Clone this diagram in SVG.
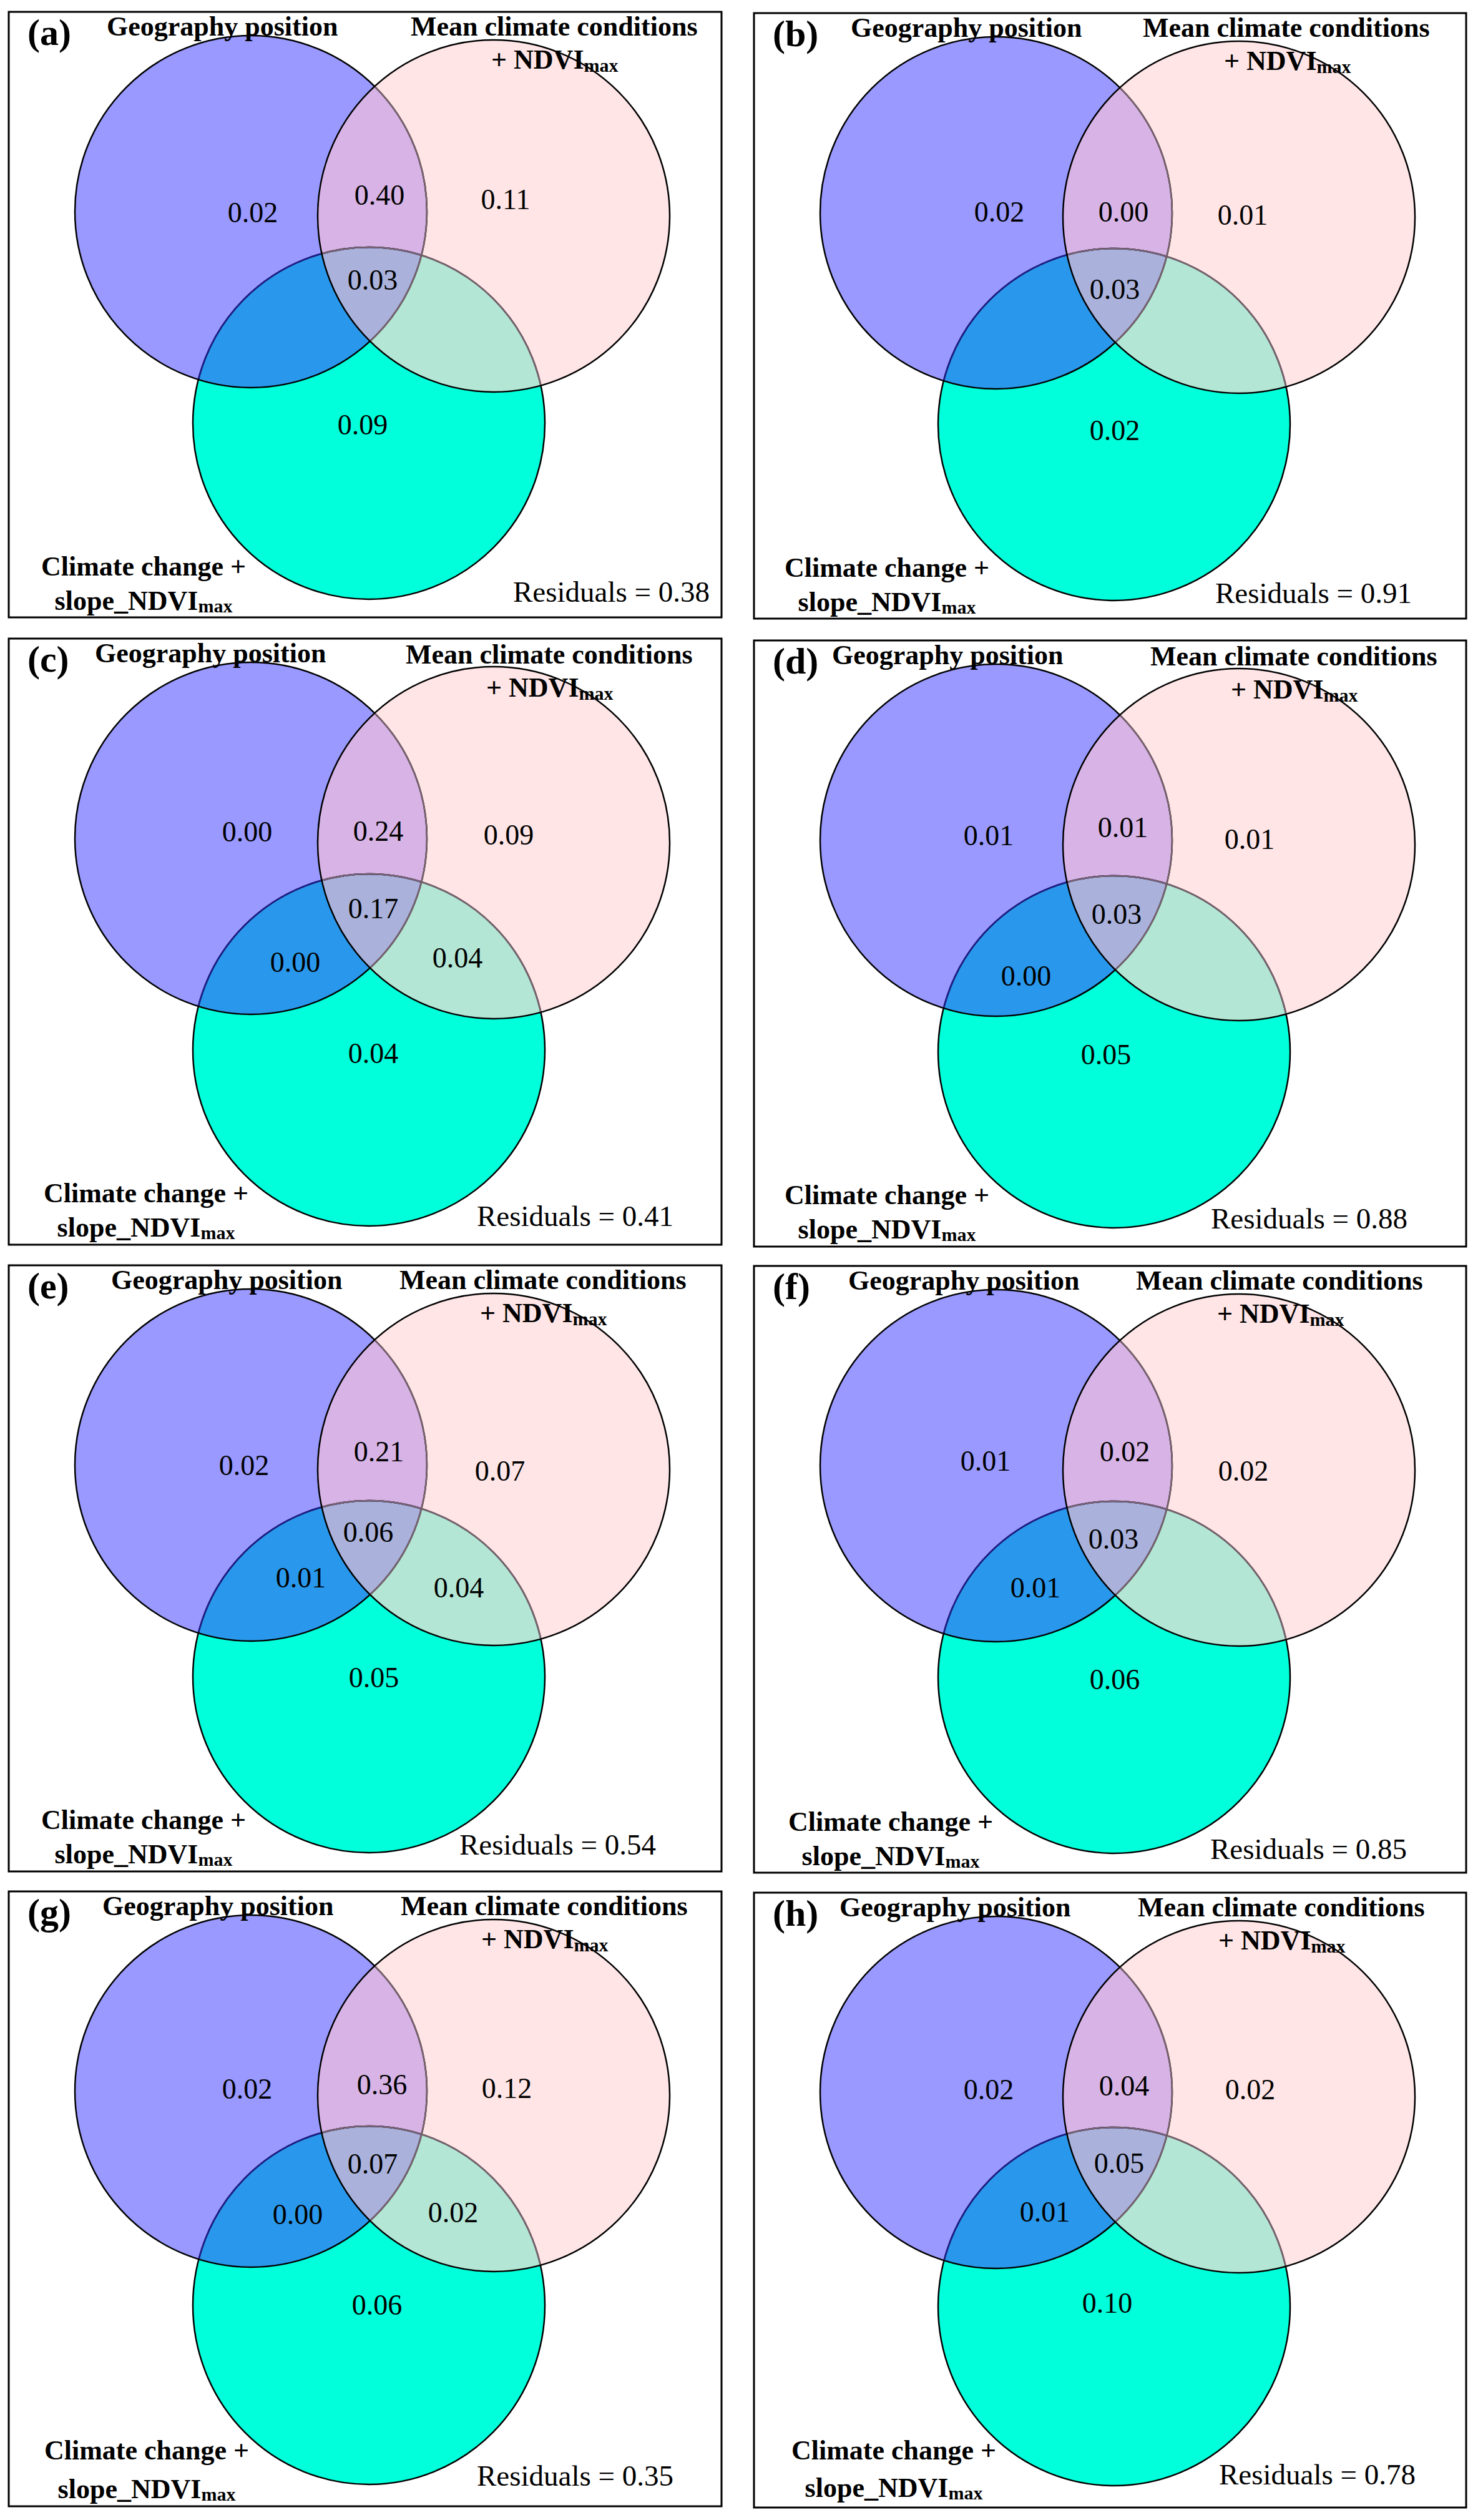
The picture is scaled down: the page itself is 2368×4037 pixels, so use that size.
<svg xmlns="http://www.w3.org/2000/svg" xmlns:xlink="http://www.w3.org/1999/xlink" width="2368" height="4037" viewBox="0 0 2368 4037">
<style>
.box{fill:#ffffff;stroke:#000000;stroke-width:3}
.t{font-family:"Liberation Serif","Times New Roman",serif;font-weight:bold;font-size:44px;fill:#000}
.pl{font-family:"Liberation Serif","Times New Roman",serif;font-weight:bold;font-size:60px;fill:#000}
.n{font-family:"Liberation Serif","Times New Roman",serif;font-size:46px;text-anchor:middle;fill:#000}
.r{font-family:"Liberation Serif","Times New Roman",serif;font-size:47px;fill:#000}
.m{text-anchor:middle}
.sub{font-size:30px}
.ol{fill:none;stroke-width:2.5}
</style>
<defs>
<clipPath id="cA"><circle cx="388" cy="320" r="282"/></clipPath>
<clipPath id="cB"><circle cx="777" cy="327" r="282"/></clipPath>
<g id="venn">
<circle cx="388" cy="320" r="282" fill="#9999FF"/>
<circle cx="777" cy="327" r="282" fill="#FFE5E6"/>
<circle cx="577" cy="659" r="282" fill="#00FFDA"/>
<circle cx="777" cy="327" r="282" fill="#D8B4E6" clip-path="url(#cA)"/>
<circle cx="577" cy="659" r="282" fill="#2998EC" clip-path="url(#cA)"/>
<circle cx="577" cy="659" r="282" fill="#B3E6D5" clip-path="url(#cB)"/>
<g clip-path="url(#cA)"><circle cx="577" cy="659" r="282" fill="#AAB2DC" clip-path="url(#cB)"/></g>
<circle class="ol" cx="577" cy="659" r="282" stroke="#000"/>
<circle class="ol" cx="577" cy="659" r="282" stroke="#1E1E8C" clip-path="url(#cA)"/>
<circle class="ol" cx="577" cy="659" r="282" stroke="#7A6470" clip-path="url(#cB)"/>
<circle class="ol" cx="388" cy="320" r="282" stroke="#000"/>
<circle class="ol" cx="388" cy="320" r="282" stroke="#7A6470" clip-path="url(#cB)"/>
<circle class="ol" cx="777" cy="327" r="282" stroke="#000"/>
</g>
<g id="venn2">
<circle cx="388" cy="320" r="282" fill="#9999FF"/>
<circle cx="777" cy="327" r="282" fill="#FFE5E6"/>
<ellipse cx="577" cy="663" rx="282" ry="287" fill="#00FFDA"/>
<circle cx="777" cy="327" r="282" fill="#D8B4E6" clip-path="url(#cA)"/>
<ellipse cx="577" cy="663" rx="282" ry="287" fill="#2998EC" clip-path="url(#cA)"/>
<ellipse cx="577" cy="663" rx="282" ry="287" fill="#B3E6D5" clip-path="url(#cB)"/>
<g clip-path="url(#cA)"><ellipse cx="577" cy="663" rx="282" ry="287" fill="#AAB2DC" clip-path="url(#cB)"/></g>
<ellipse class="ol" cx="577" cy="663" rx="282" ry="287" stroke="#000"/>
<ellipse class="ol" cx="577" cy="663" rx="282" ry="287" stroke="#1E1E8C" clip-path="url(#cA)"/>
<ellipse class="ol" cx="577" cy="663" rx="282" ry="287" stroke="#7A6470" clip-path="url(#cB)"/>
<circle class="ol" cx="388" cy="320" r="282" stroke="#000"/>
<circle class="ol" cx="388" cy="320" r="282" stroke="#7A6470" clip-path="url(#cB)"/>
<circle class="ol" cx="777" cy="327" r="282" stroke="#000"/>
</g>
</defs>
<rect x="0" y="0" width="2368" height="4037" fill="#ffffff"/>

<g id="panel-a" transform="translate(14,19)">
<rect class="box" x="0" y="0" width="1142" height="970"/>
<use xlink:href="#venn" href="#venn"/>
<text class="pl" x="30" y="53">(a)</text>
<text class="t" x="157" y="38">Geography position</text>
<text class="t" x="644" y="38">Mean climate conditions</text>
<text class="t" x="773" y="91">+ NDVI<tspan class="sub" dy="5">max</tspan></text>
<text class="t m" x="216" y="903">Climate change +</text>
<text class="t m" x="216" y="958">slope_NDVI<tspan class="sub" dy="4">max</tspan></text>
<text class="n" x="391" y="337">0.02</text>
<text class="n" x="594" y="309">0.40</text>
<text class="n" x="796" y="316">0.11</text>
<text class="n" x="583" y="445">0.03</text>
<text class="n" x="567" y="677">0.09</text>
<text class="r" x="808" y="945">Residuals = 0.38</text>
</g>

<g id="panel-b" transform="translate(1208,21)">
<rect class="box" x="0" y="0" width="1141" height="970"/>
<use xlink:href="#venn" href="#venn"/>
<text class="pl" x="30" y="53">(b)</text>
<text class="t" x="155" y="38">Geography position</text>
<text class="t" x="623" y="38">Mean climate conditions</text>
<text class="t" x="753" y="91">+ NDVI<tspan class="sub" dy="5">max</tspan></text>
<text class="t m" x="213" y="903">Climate change +</text>
<text class="t m" x="213" y="958">slope_NDVI<tspan class="sub" dy="4">max</tspan></text>
<text class="n" x="393" y="334">0.02</text>
<text class="n" x="592" y="334">0.00</text>
<text class="n" x="783" y="339">0.01</text>
<text class="n" x="578" y="458">0.03</text>
<text class="n" x="578" y="684">0.02</text>
<text class="r" x="739" y="945">Residuals = 0.91</text>
</g>

<g id="panel-c" transform="translate(14,1023)">
<rect class="box" x="0" y="0" width="1142" height="971"/>
<use xlink:href="#venn" href="#venn"/>
<text class="pl" x="30" y="53">(c)</text>
<text class="t" x="138" y="38">Geography position</text>
<text class="t" x="636" y="40">Mean climate conditions</text>
<text class="t" x="765" y="93">+ NDVI<tspan class="sub" dy="5">max</tspan></text>
<text class="t m" x="220" y="903">Climate change +</text>
<text class="t m" x="220" y="958">slope_NDVI<tspan class="sub" dy="4">max</tspan></text>
<text class="n" x="382" y="325">0.00</text>
<text class="n" x="592" y="324">0.24</text>
<text class="n" x="801" y="330">0.09</text>
<text class="n" x="584" y="448">0.17</text>
<text class="n" x="459" y="534">0.00</text>
<text class="n" x="719" y="527">0.04</text>
<text class="n" x="584" y="680">0.04</text>
<text class="r" x="750" y="941">Residuals = 0.41</text>
</g>

<g id="panel-d" transform="translate(1208,1026)">
<rect class="box" x="0" y="0" width="1141" height="971"/>
<use xlink:href="#venn" href="#venn"/>
<text class="pl" x="30" y="53">(d)</text>
<text class="t" x="125" y="38">Geography position</text>
<text class="t" x="635" y="40">Mean climate conditions</text>
<text class="t" x="764" y="93">+ NDVI<tspan class="sub" dy="5">max</tspan></text>
<text class="t m" x="213" y="903">Climate change +</text>
<text class="t m" x="213" y="958">slope_NDVI<tspan class="sub" dy="4">max</tspan></text>
<text class="n" x="376" y="328">0.01</text>
<text class="n" x="591" y="315">0.01</text>
<text class="n" x="794" y="334">0.01</text>
<text class="n" x="581" y="454">0.03</text>
<text class="n" x="436" y="553">0.00</text>
<text class="n" x="564" y="679">0.05</text>
<text class="r" x="732" y="942">Residuals = 0.88</text>
</g>

<g id="panel-e" transform="translate(14,2027)">
<rect class="box" x="0" y="0" width="1142" height="971"/>
<use xlink:href="#venn" href="#venn"/>
<text class="pl" x="30" y="53">(e)</text>
<text class="t" x="164" y="38">Geography position</text>
<text class="t" x="626" y="38">Mean climate conditions</text>
<text class="t" x="755" y="91">+ NDVI<tspan class="sub" dy="5">max</tspan></text>
<text class="t m" x="216" y="903">Climate change +</text>
<text class="t m" x="216" y="958">slope_NDVI<tspan class="sub" dy="4">max</tspan></text>
<text class="n" x="377" y="336">0.02</text>
<text class="n" x="593" y="314">0.21</text>
<text class="n" x="787" y="345">0.07</text>
<text class="n" x="576" y="443">0.06</text>
<text class="n" x="468" y="516">0.01</text>
<text class="n" x="721" y="532">0.04</text>
<text class="n" x="585" y="676">0.05</text>
<text class="r" x="722" y="944">Residuals = 0.54</text>
</g>

<g id="panel-f" transform="translate(1208,2028)">
<rect class="box" x="0" y="0" width="1141" height="972"/>
<use xlink:href="#venn" href="#venn"/>
<text class="pl" x="30" y="53">(f)</text>
<text class="t" x="151" y="38">Geography position</text>
<text class="t" x="612" y="38">Mean climate conditions</text>
<text class="t" x="742" y="91">+ NDVI<tspan class="sub" dy="5">max</tspan></text>
<text class="t m" x="219" y="905">Climate change +</text>
<text class="t m" x="219" y="960">slope_NDVI<tspan class="sub" dy="4">max</tspan></text>
<text class="n" x="371" y="328">0.01</text>
<text class="n" x="594" y="313">0.02</text>
<text class="n" x="784" y="344">0.02</text>
<text class="n" x="576" y="453">0.03</text>
<text class="n" x="451" y="531">0.01</text>
<text class="n" x="578" y="678">0.06</text>
<text class="r" x="731" y="950">Residuals = 0.85</text>
</g>

<g id="panel-g" transform="translate(14,3030)">
<rect class="box" x="0" y="0" width="1142" height="985"/>
<use xlink:href="#venn2" href="#venn2"/>
<text class="pl" x="30" y="53">(g)</text>
<text class="t" x="150" y="38">Geography position</text>
<text class="t" x="628" y="38">Mean climate conditions</text>
<text class="t" x="757" y="91">+ NDVI<tspan class="sub" dy="5">max</tspan></text>
<text class="t m" x="221" y="910">Climate change +</text>
<text class="t m" x="221" y="972">slope_NDVI<tspan class="sub" dy="4">max</tspan></text>
<text class="n" x="382" y="332">0.02</text>
<text class="n" x="598" y="325">0.36</text>
<text class="n" x="798" y="331">0.12</text>
<text class="n" x="583" y="452">0.07</text>
<text class="n" x="463" y="533">0.00</text>
<text class="n" x="712" y="530">0.02</text>
<text class="n" x="590" y="678">0.06</text>
<text class="r" x="750" y="952">Residuals = 0.35</text>
</g>

<g id="panel-h" transform="translate(1208,3032)">
<rect class="box" x="0" y="0" width="1141" height="985"/>
<use xlink:href="#venn2" href="#venn2"/>
<text class="pl" x="30" y="53">(h)</text>
<text class="t" x="137" y="38">Geography position</text>
<text class="t" x="615" y="38">Mean climate conditions</text>
<text class="t" x="744" y="91">+ NDVI<tspan class="sub" dy="5">max</tspan></text>
<text class="t m" x="224" y="908">Climate change +</text>
<text class="t m" x="224" y="968">slope_NDVI<tspan class="sub" dy="4">max</tspan></text>
<text class="n" x="376" y="331">0.02</text>
<text class="n" x="593" y="325">0.04</text>
<text class="n" x="795" y="331">0.02</text>
<text class="n" x="585" y="449">0.05</text>
<text class="n" x="466" y="527">0.01</text>
<text class="n" x="566" y="673">0.10</text>
<text class="r" x="745" y="948">Residuals = 0.78</text>
</g>
</svg>
